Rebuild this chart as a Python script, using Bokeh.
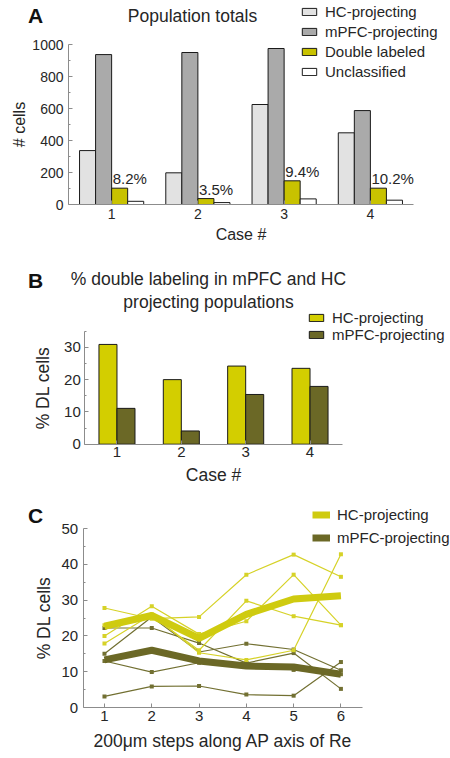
from bokeh.plotting import figure
from bokeh.models import ColumnDataSource, Label, FixedTicker, Range1d, Legend, LegendItem
from bokeh.layouts import column
from bokeh.core.properties import value
from bokeh.transform import dodge
from bokeh.embed import file_html
from bokeh.resources import INLINE

FONT = "Liberation Sans"
TXT = "#262626"
AXC = "#8c8c8c"

# ---------------- data ----------------
# Panel A: population totals
cases = [1, 2, 3, 4]
hc_total = [337, 198, 625, 448]
mpfc_total = [937, 950, 975, 587]
dl_total = [102, 37, 148, 102]
uncl_total = [20, 12, 35, 27]
dl_pct_labels = ["8.2%", "3.5%", "9.4%", "10.2%"]
a_yticks = [0, 200, 400, 600, 800, 1000]

# Panel B: % double labeling
hc_dl_pct = [30.9, 20.0, 24.2, 23.5]
mpfc_dl_pct = [11.1, 4.1, 15.4, 17.9]
b_yticks = [0, 10, 20, 30]

# Panel C: % DL cells along AP axis
steps = [1, 2, 3, 4, 5, 6]
hc_case1 = [27.8, 24.8, 25.3, 37.1, 42.7, 36.5]
hc_case2 = [20.0, 28.3, 20.5, 24.1, 37.1, 23.0]
hc_case3 = [17.9, 26.0, 15.3, 13.3, 16.0, 42.8]
hc_case4 = [23.0, 25.5, 16.0, 29.8, 25.5, 23.0]
hc_mean = [22.7, 25.7, 19.3, 26.0, 30.3, 31.2]
mpfc_case1 = [3.1, 5.9, 6.0, 3.6, 3.3, 12.7]
mpfc_case2 = [13.0, 9.9, 12.5, 12.4, 10.5, 9.3]
mpfc_case3 = [22.2, 22.2, 18.0, 12.4, 15.2, 5.2]
mpfc_case4 = [15.0, 25.3, 15.5, 17.8, 16.2, 10.4]
mpfc_mean = [13.3, 16.0, 13.0, 11.6, 11.3, 9.3]
c_yticks = [0, 10, 20, 30, 40, 50]

# colours
A_HC, A_MPFC, A_DL, A_UN = "#e2e2e2", "#aaaaaa", "#c8c200", "#ffffff"
B_HC, B_MPFC = "#d3ce00", "#6b6826"
C_HC_THIN, C_HC = "#d6d228", "#cfcb10"
C_MPFC_THIN, C_MPFC = "#727032", "#6b6826"

W = 450


def xr(d0, d1, p0, p1):
    s = (d1 - d0) / (p1 - p0)
    return Range1d(d0 - p0 * s, d1 + (W - p1) * s)


def yr(d0, d1, p0_top, p1_top, H):
    b0, b1 = H - p0_top, H - p1_top
    s = (d1 - d0) / (b1 - b0)
    return Range1d(d0 - b0 * s, d1 + (H - b1) * s)


def make_fig(H, x_range, y_range):
    p = figure(width=W, height=H, output_backend="svg", toolbar_location=None,
               x_range=x_range, y_range=y_range,
               min_border_left=0, min_border_right=0, min_border_top=0, min_border_bottom=0)
    return p


def style(p, xlabel, ylabel, tick_px, lab_px, xb, yb, xfix, yfix):
    p.xgrid.visible = False
    p.ygrid.visible = False
    p.outline_line_color = None
    p.background_fill_color = "white"
    p.border_fill_color = "white"
    for ax in (p.xaxis[0], p.yaxis[0]):
        ax.axis_line_color = AXC
        ax.axis_line_width = 1
        ax.major_tick_line_color = AXC
        ax.minor_tick_line_color = AXC
        ax.major_tick_in = 4
        ax.major_tick_out = 0
        ax.minor_tick_in = 2
        ax.minor_tick_out = 0
        ax.major_label_text_font = FONT
        ax.major_label_text_color = TXT
        ax.major_label_text_font_size = tick_px
        ax.axis_label_text_font = FONT
        ax.axis_label_text_font_style = "normal"
        ax.axis_label_text_color = TXT
        ax.axis_label_text_font_size = lab_px
    p.xaxis.axis_label = xlabel
    p.yaxis.axis_label = ylabel
    p.xaxis.bounds = xb
    p.yaxis.bounds = yb
    p.xaxis.fixed_location = xfix
    p.yaxis.fixed_location = yfix


def lab(p, x, y, text, size, bold=False):
    p.add_layout(Label(x=x, y=y, x_units="screen", y_units="screen", text=text,
                       text_font=FONT, text_font_size=size,
                       text_color="#111111" if bold else TXT,
                       text_font_style="bold" if bold else "normal",
                       text_align="center", text_baseline="middle"))


def legend(p, items, loc, size, gw, gh, lh, sp):
    lg = Legend(items=items, location=loc, orientation="vertical",
                label_text_font=FONT, label_text_font_size=size, label_text_color=TXT,
                glyph_width=gw, glyph_height=gh, label_height=lh, spacing=sp,
                label_standoff=7, padding=0, margin=0,
                border_line_color=None, background_fill_alpha=0)
    p.add_layout(lg)


# ---------------- Panel A ----------------
HA = 250
srcA = ColumnDataSource(dict(case=cases, hc=hc_total, mpfc=mpfc_total, dl=dl_total,
                             un=uncl_total, pct=dl_pct_labels))
pA = make_fig(HA, xr(0.5, 4.5, 68, 413), yr(0, 1000, 204, 44, HA))
bw = 0.186
rA = []
for off, col, fc in [(-1.5, "hc", A_HC), (-0.5, "mpfc", A_MPFC), (0.5, "dl", A_DL), (1.5, "un", A_UN)]:
    rA.append(pA.vbar(x=dodge("case", off * bw), top=col, width=bw, bottom=0, source=srcA,
                      fill_color=fc, line_color="#1a1a1a", line_width=1))
pA.text(x="case", y="dl", text="pct", source=srcA, x_offset=1, y_offset=-1,
        text_align="left", text_baseline="bottom", text_font=value(FONT),
        text_font_size="15px", text_color=TXT)
style(pA, "Case #", "# cells", "14px", "16px", (0.5, 4.5), (0, 1000), 0, 0.5)
pA.xaxis.ticker = FixedTicker(ticks=cases, minor_ticks=[])
pA.yaxis.ticker = FixedTicker(ticks=a_yticks, minor_ticks=[100, 300, 500, 700, 900])
pA.xaxis.major_label_standoff = 4
pA.xaxis.axis_label_standoff = 4
pA.yaxis.major_label_standoff = 5
pA.yaxis.axis_label_standoff = 1
legend(pA, [LegendItem(label="HC-projecting", renderers=[rA[0]]),
            LegendItem(label="mPFC-projecting", renderers=[rA[1]]),
            LegendItem(label="Double labeled", renderers=[rA[2]]),
            LegendItem(label="Unclassified", renderers=[rA[3]])],
       (300, 170), "15px", 18, 9, 16, 3)
lab(pA, 35, HA - 15, "A", "21px", bold=True)
lab(pA, 192, HA - 15, "Population totals", "17.5px")

# ---------------- Panel B ----------------
HB = 245
TB = 250
srcB = ColumnDataSource(dict(case=cases, hc=hc_dl_pct, mpfc=mpfc_dl_pct))
pB = make_fig(HB, xr(0.5, 4.5, 84.3, 341.7), yr(0, 35, 443.7 - TB, 330.7 - TB, HB))
bw2 = 0.28
rB1 = pB.vbar(x=dodge("case", -bw2 / 2), top="hc", width=bw2, bottom=0, source=srcB,
              fill_color=B_HC, line_color="#1a1a1a", line_width=1)
rB2 = pB.vbar(x=dodge("case", bw2 / 2), top="mpfc", width=bw2, bottom=0, source=srcB,
              fill_color=B_MPFC, line_color="#1a1a1a", line_width=1)
style(pB, "Case #", "% DL cells", "15px", "17.5px", (0.5, 4.5), (0, 35), 0, 0.5)
pB.xaxis.ticker = FixedTicker(ticks=cases, minor_ticks=[])
pB.yaxis.ticker = FixedTicker(ticks=b_yticks, minor_ticks=[5, 15, 25, 35])
pB.xaxis.major_label_standoff = 3
pB.xaxis.axis_label_standoff = 4
pB.yaxis.major_label_standoff = 4
pB.yaxis.axis_label_standoff = 8
legend(pB, [LegendItem(label="HC-projecting", renderers=[rB1]),
            LegendItem(label="mPFC-projecting", renderers=[rB2])],
       (307, TB + HB - 343), "15px", 18, 9, 14, 0)
lab(pB, 35, TB + HB - 280, "B", "21px", bold=True)
lab(pB, 208, TB + HB - 278, "% double labeling in mPFC and HC", "17.5px")
lab(pB, 208, TB + HB - 301, "projecting populations", "17.5px")

# ---------------- Panel C ----------------
HC_ = 263
TC = 495
pC = make_fig(HC_, xr(0.55, 6.45, 82.7, 361.7), yr(0, 50, 707 - TC, 528 - TC, HC_))
for ser in [mpfc_case1, mpfc_case2, mpfc_case3, mpfc_case4]:
    s = ColumnDataSource(dict(x=steps, y=ser))
    pC.line("x", "y", source=s, line_color=C_MPFC_THIN, line_width=1.2)
    pC.scatter("x", "y", source=s, marker="square", size=4, fill_color=C_MPFC_THIN, line_color=None)
for ser in [hc_case1, hc_case2, hc_case3, hc_case4]:
    s = ColumnDataSource(dict(x=steps, y=ser))
    pC.line("x", "y", source=s, line_color=C_HC_THIN, line_width=1.2)
    pC.scatter("x", "y", source=s, marker="square", size=4, fill_color=C_HC_THIN, line_color=None)
rC2 = pC.line(x=steps, y=mpfc_mean, line_color=C_MPFC, line_width=7, line_join="round")
rC1 = pC.line(x=steps, y=hc_mean, line_color=C_HC, line_width=7, line_join="round")
style(pC, "200\u03bcm steps along AP axis of Re", "% DL cells", "15px", "17.5px",
      (0.55, 6.45), (0, 50), 0, 0.55)
pC.xaxis.ticker = FixedTicker(ticks=steps, minor_ticks=[])
pC.yaxis.ticker = FixedTicker(ticks=c_yticks, minor_ticks=[5, 15, 25, 35, 45])
pC.xaxis.major_label_standoff = 3
pC.xaxis.axis_label_standoff = 7
pC.yaxis.major_label_standoff = 5
pC.yaxis.axis_label_standoff = 5
legend(pC, [LegendItem(label="HC-projecting", renderers=[rC1]),
            LegendItem(label="mPFC-projecting", renderers=[rC2])],
       (312, TC + HC_ - 547), "15px", 18, 9, 20, 3)
lab(pC, 35, TC + HC_ - 515, "C", "21px", bold=True)

layout = column(pA, pB, pC, spacing=0)
open("out.html", "w").write(file_html(layout, INLINE))
